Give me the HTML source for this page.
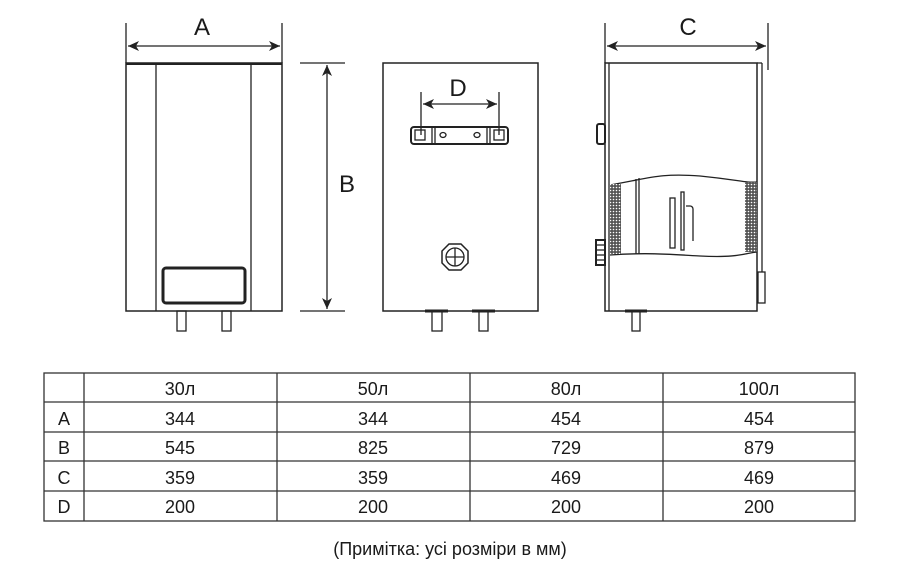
<!DOCTYPE html>
<html><head><meta charset="utf-8"><style>
body{margin:0;background:#fff;width:903px;height:578px;overflow:hidden}
svg text{font-family:"Liberation Sans",sans-serif;fill:#1a1a1a}
</style></head><body>
<svg width="903" height="578" viewBox="0 0 903 578" xmlns="http://www.w3.org/2000/svg">
<defs>
<marker id="ar" markerWidth="12" markerHeight="10" refX="11" refY="5" orient="auto-start-reverse" markerUnits="userSpaceOnUse">
<path d="M0,0 L11,5 L0,10 L3,5 Z" fill="#222"/></marker>
<pattern id="hx" width="3" height="3" patternUnits="userSpaceOnUse">
<rect width="3" height="3" fill="#555"/><circle cx="1.5" cy="1.5" r="0.8" fill="#fff"/></pattern>
</defs>
<g stroke="#222" fill="none" stroke-width="1.3">
<line x1="126" y1="23" x2="126" y2="63"/><line x1="282" y1="23" x2="282" y2="63"/>
<line x1="128" y1="46" x2="280" y2="46" marker-start="url(#ar)" marker-end="url(#ar)"/>
<rect x="126" y="63" width="156" height="248" stroke-width="1.5"/>
<line x1="126" y1="64" x2="282" y2="64" stroke-width="2"/>
<line x1="156" y1="63" x2="156" y2="311"/><line x1="251" y1="63" x2="251" y2="311"/>
<rect x="163" y="268" width="82" height="35" rx="3" stroke-width="3"/>
<rect x="177" y="311" width="9" height="20"/><rect x="222" y="311" width="9" height="20"/>
<line x1="300" y1="63" x2="345" y2="63"/><line x1="300" y1="311" x2="345" y2="311"/>
<line x1="327" y1="65" x2="327" y2="309" marker-start="url(#ar)" marker-end="url(#ar)"/>
<rect x="383" y="63" width="155" height="248" stroke-width="1.5"/>
<line x1="421" y1="92" x2="421" y2="135"/><line x1="499" y1="92" x2="499" y2="135"/>
<line x1="423" y1="104" x2="497" y2="104" marker-start="url(#ar)" marker-end="url(#ar)"/>
<rect x="411" y="127" width="97" height="17" rx="3" stroke-width="2"/>
<rect x="415" y="130" width="10" height="10"/><rect x="494" y="130" width="10" height="10"/>
<line x1="432" y1="128" x2="432" y2="143"/><line x1="435" y1="128" x2="435" y2="143"/>
<line x1="487" y1="128" x2="487" y2="143"/><line x1="490" y1="128" x2="490" y2="143"/>
<ellipse cx="443" cy="135" rx="3" ry="2.5"/><ellipse cx="477" cy="135" rx="3" ry="2.5"/>
<polygon points="449,244 461,244 468,251 468,263 461,270 449,270 442,263 442,251" stroke-width="1.5"/>
<circle cx="455" cy="257" r="9"/><line x1="446" y1="257" x2="464" y2="257"/><line x1="455" y1="248" x2="455" y2="266"/>
<rect x="432" y="311" width="10" height="20"/><rect x="479" y="311" width="9" height="20"/>
<line x1="425" y1="311" x2="448" y2="311" stroke-width="3"/><line x1="472" y1="311" x2="495" y2="311" stroke-width="3"/>
<line x1="605" y1="23" x2="605" y2="63"/><line x1="768" y1="23" x2="768" y2="70"/>
<line x1="607" y1="46" x2="766" y2="46" marker-start="url(#ar)" marker-end="url(#ar)"/>
<rect x="605" y="63" width="152" height="248" stroke-width="1.5"/>
<line x1="609" y1="63" x2="609" y2="311"/>
<line x1="757" y1="63" x2="762" y2="63"/><line x1="762" y1="63" x2="762" y2="272"/>
<rect x="758" y="272" width="7" height="31"/>
<rect x="597" y="124" width="8" height="20" rx="2" stroke-width="2"/>
<rect x="596" y="240" width="9" height="25" stroke-width="2"/>
<line x1="596" y1="245" x2="605" y2="245"/><line x1="596" y1="250" x2="605" y2="250"/><line x1="596" y1="255" x2="605" y2="255"/><line x1="596" y1="260" x2="605" y2="260"/>
<path d="M610,185 C650,178 660,173 700,176 C740,180 745,183 757,182" />
<path d="M610,255 C650,252 680,255 700,256 C740,258 745,253 757,252" />
<rect x="610" y="184" width="11" height="70" fill="url(#hx)" stroke="none"/>
<rect x="745" y="182" width="12" height="70" fill="url(#hx)" stroke="none"/>
<line x1="636" y1="179" x2="636" y2="254"/><line x1="639" y1="178" x2="639" y2="254"/>
<rect x="670" y="198" width="5" height="50"/><rect x="681" y="192" width="3" height="58"/>
<path d="M686,206 h4 a3,3 0 0 1 3,3 v32"/>
<rect x="632" y="311" width="8" height="20"/><line x1="625" y1="311" x2="647" y2="311" stroke-width="3"/>
<rect x="44" y="373" width="811" height="148" stroke="#333"/>
<line x1="44" y1="402" x2="855" y2="402" stroke="#333"/><line x1="44" y1="432" x2="855" y2="432" stroke="#333"/>
<line x1="44" y1="461" x2="855" y2="461" stroke="#333"/><line x1="44" y1="491" x2="855" y2="491" stroke="#333"/>
<line x1="84" y1="373" x2="84" y2="521" stroke="#333"/><line x1="277" y1="373" x2="277" y2="521" stroke="#333"/>
<line x1="470" y1="373" x2="470" y2="521" stroke="#333"/><line x1="663" y1="373" x2="663" y2="521" stroke="#333"/>
</g>
<g font-size="24" text-anchor="middle">
<text x="202" y="35">A</text><text x="347" y="192">B</text><text x="458" y="96">D</text><text x="688" y="35">C</text>
</g>
<g font-size="18" text-anchor="middle">
<text x="180" y="395">30л</text><text x="373" y="395">50л</text><text x="566" y="395">80л</text><text x="759" y="395">100л</text>
<text x="64" y="425">A</text><text x="180" y="425">344</text><text x="373" y="425">344</text><text x="566" y="425">454</text><text x="759" y="425">454</text>
<text x="64" y="454">B</text><text x="180" y="454">545</text><text x="373" y="454">825</text><text x="566" y="454">729</text><text x="759" y="454">879</text>
<text x="64" y="484">C</text><text x="180" y="484">359</text><text x="373" y="484">359</text><text x="566" y="484">469</text><text x="759" y="484">469</text>
<text x="64" y="513">D</text><text x="180" y="513">200</text><text x="373" y="513">200</text><text x="566" y="513">200</text><text x="759" y="513">200</text>
<text x="450" y="555">(Примітка: усі розміри в мм)</text>
</g>
</svg>
</body></html>
